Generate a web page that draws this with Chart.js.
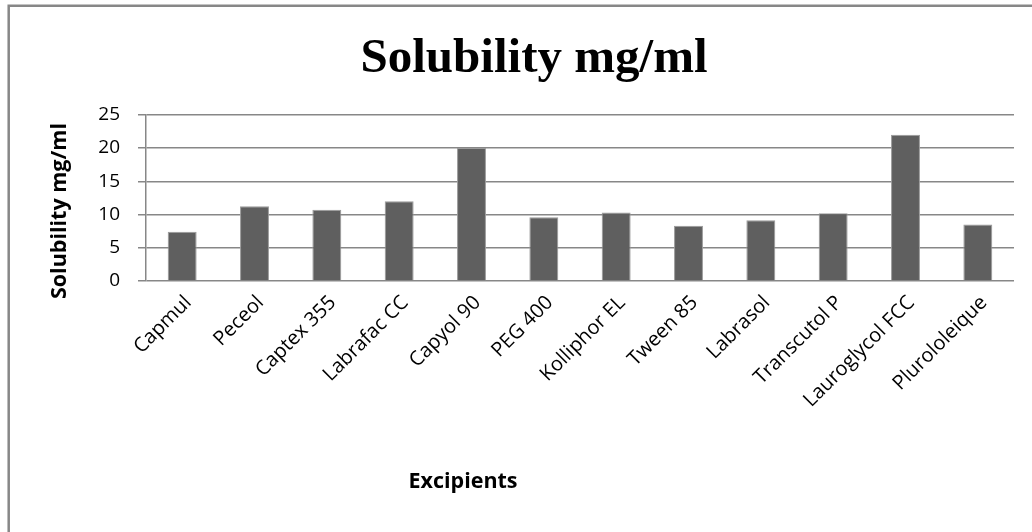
<!DOCTYPE html>
<html>
<head>
<meta charset="utf-8">
<script src="https://cdn.jsdelivr.net/npm/chart.js@4.4.1/dist/chart.umd.min.js"></script>
<style>
  html, body { margin: 0; padding: 0; background: #ffffff; }
  #wrap { width: 1032px; height: 532px; position: relative; }
</style>
</head>
<body>
<div id="wrap"><canvas id="c" width="1032" height="532"></canvas></div>
<script>
const chartTitle = 'Solubility mg/ml';
const yAxisTitle = 'Solubility mg/ml';
const xAxisTitle = 'Excipients';
const categories = ['Capmul', 'Peceol', 'Captex 355', 'Labrafac CC', 'Capyol 90', 'PEG 400',
  'Kolliphor EL', 'Tween 85', 'Labrasol', 'Transcutol P', 'Lauroglycol FCC', 'Plurololeique'];
const solubility = [7.4, 11.25, 10.7, 12.0, 20.0, 9.6, 10.3, 8.3, 9.15, 10.2, 22.0, 8.5];
const yTicks = [0, 5, 10, 15, 20, 25];

const GRID = '#878787';
const labelFont = "'Open Sans', Lato, sans-serif";

const framePlugin = {
  id: 'frame',
  afterDraw(chart) {
    const ctx = chart.ctx;
    ctx.save();
    ctx.strokeStyle = GRID;
    ctx.lineWidth = 2.5;
    ctx.beginPath();
    ctx.moveTo(8.7, 532);
    ctx.lineTo(8.7, 5.7);
    ctx.lineTo(1032, 5.7);
    ctx.stroke();
    // axis titles
    ctx.fillStyle = '#000000';
    ctx.font = "bold 21.5px " + labelFont;
    ctx.textAlign = 'center';
    ctx.textBaseline = 'middle';
    ctx.fillText(xAxisTitle, 463, 482);
    ctx.translate(60, 211);
    ctx.rotate(-Math.PI / 2);
    ctx.fillText(yAxisTitle, 0, 0);
    ctx.restore();
  }
};

new Chart(document.getElementById('c'), {
  type: 'bar',
  data: {
    labels: categories,
    datasets: [{
      label: yAxisTitle,
      data: solubility,
      backgroundColor: '#5f5f5f',
      borderColor: '#9a9a9a',
      borderWidth: 1,
      categoryPercentage: 1.0,
      barPercentage: 0.4
    }]
  },
  options: {
    responsive: false,
    animation: false,
    devicePixelRatio: 1,
    layout: { padding: { left: 54, right: 18, top: 0, bottom: 0 } },
    plugins: {
      legend: { display: false },
      tooltip: { enabled: false },
      title: {
        display: true,
        text: chartTitle,
        color: '#000000',
        font: { family: "'Liberation Serif', 'Times New Roman', serif", size: 49, weight: 'bold', lineHeight: 1.2 },
        padding: { top: 30, bottom: 26 }
      }
    },
    scales: {
      x: {
        grid: { display: false },
        border: { display: false },
        ticks: {
          color: '#000000',
          font: { family: labelFont, size: 20 },
          maxRotation: 45,
          minRotation: 45,
          padding: 2,
          labelOffset: 6,
          autoSkip: false
        },
        afterFit(scale) { scale.height = 251; }
      },
      y: {
        min: 0,
        max: 25,
        afterBuildTicks(scale) { scale.ticks = yTicks.map(v => ({ value: v })); },
        grid: { color: GRID, lineWidth: 1.5, tickLength: 8, drawTicks: true },
        border: { color: GRID, width: 1.5 },
        ticks: {
          color: '#000000',
          font: { family: labelFont, size: 19 },
          padding: 18
        },
        afterFit(scale) { scale.width = 92; }
      }
    }
  },
  plugins: [framePlugin]
});
</script>
</body>
</html>
